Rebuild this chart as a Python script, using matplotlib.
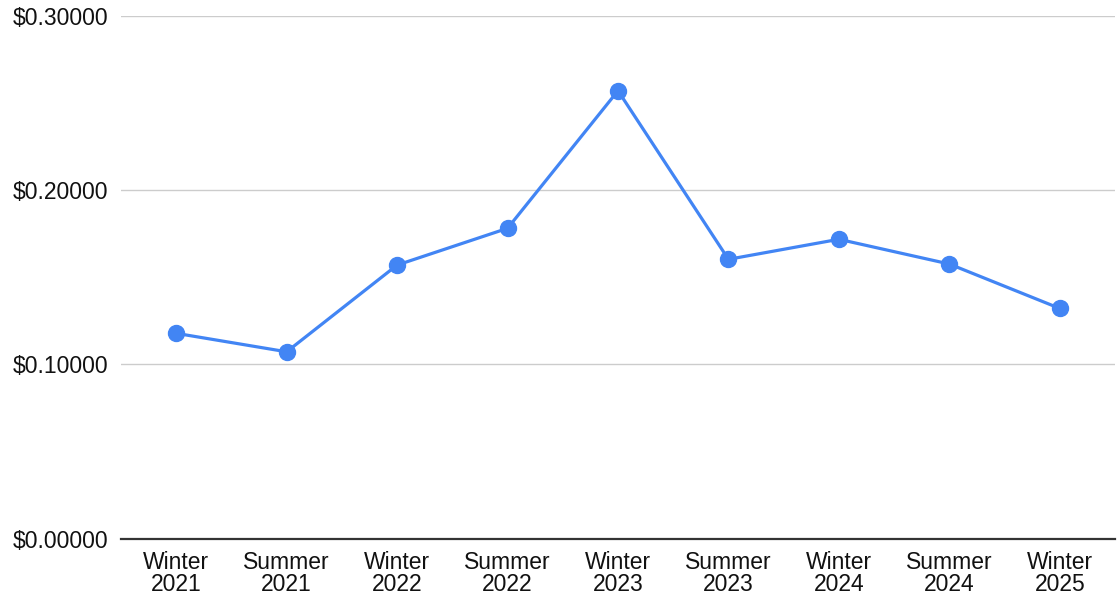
import matplotlib
matplotlib.use("Agg")
import matplotlib.pyplot as plt
from matplotlib.ticker import FuncFormatter

categories = ["Winter\n2021", "Summer\n2021", "Winter\n2022", "Summer\n2022", "Winter\n2023",
              "Summer\n2023", "Winter\n2024", "Summer\n2024", "Winter\n2025"]
values = [0.1178, 0.1072, 0.1570, 0.1781, 0.2571, 0.1603, 0.1718, 0.1576, 0.1321]
yticks = [0.0, 0.1, 0.2, 0.3]

plt.rcParams['font.family'] = ['Liberation Sans', 'DejaVu Sans']

fig = plt.figure(figsize=(11.18, 5.96), dpi=100)
ax = fig.add_axes([121/1118, 1 - 538.5/596, (1115 - 121)/1118, (538.5 - 16)/596])

x = list(range(len(categories)))
ax.plot(x, values, color="#4285F4", linewidth=2.3, marker="o", markersize=11.5, zorder=3)

ax.set_xlim(-0.5, len(categories) - 0.5)
ax.set_ylim(0, 0.3)
ax.set_yticks(yticks)
ax.yaxis.set_major_formatter(FuncFormatter(lambda v, p: f"${v:.5f}"))
ax.set_xticks(x)
ax.set_xticklabels(categories, linespacing=0.95)

ax.grid(axis="y", color="#cccccc", linewidth=1.0)
ax.set_axisbelow(True)
for s in ["top", "right", "left"]:
    ax.spines[s].set_visible(False)
ax.spines["bottom"].set_color("#333333")
ax.spines["bottom"].set_linewidth(1.6)
ax.spines["bottom"].set_zorder(2)

ax.tick_params(axis="y", length=0, pad=9, labelsize=16.5, labelcolor="#111111")
ax.tick_params(axis="x", length=0, pad=9, labelsize=16.5, labelcolor="#111111")

fig.savefig("out.png", dpi=100, facecolor="white")
